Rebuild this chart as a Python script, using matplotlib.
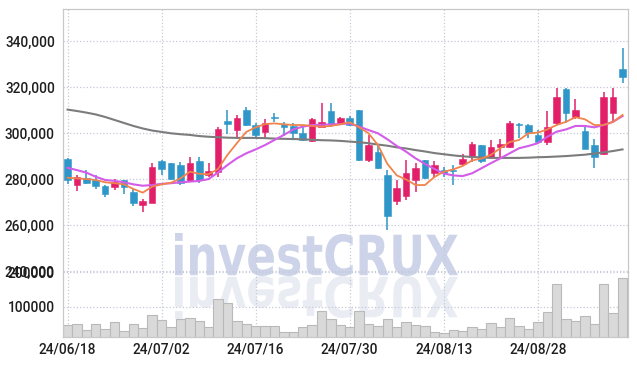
import matplotlib
matplotlib.use('Agg')
import matplotlib.pyplot as plt
from matplotlib.textpath import TextPath
from matplotlib.patches import PathPatch
from matplotlib.font_manager import FontProperties
from matplotlib.transforms import Affine2D

plt.rcParams['font.family'] = ['Roboto', 'DejaVu Sans']
plt.rcParams['font.weight'] = 'medium'

# ── Data ──────────────────────────────────────────────────────────────────────
opens = [288800, 277500, 280400, 279700, 277200, 276700, 279700, 274300, 268700, 269600,
         288000, 287100, 286200, 279400, 288000, 281900, 283000, 305300, 301300, 310100,
         303600, 300700, 307200, 304000, 303200, 300300, 296800, 302900, 309800, 304300,
         306500, 310100, 288400, 292000, 281900, 270700, 272700, 279700, 288400, 282600,
         284000, 283900, 286700, 289800, 294900, 289600, 294200, 293900, 304000, 303600,
         299300, 296300, 304600, 319100, 307200, 301100, 294900, 291000, 309000, 327800]
highs = [289300, 281900, 283900, 281900, 277500, 280000, 279900, 275800, 271400, 287200,
         288200, 287300, 287700, 289700, 289700, 287200, 302700, 310000, 308000, 311300,
         304300, 306100, 309000, 305000, 304300, 302600, 306500, 313300, 313300, 307200,
         307500, 310300, 299300, 294900, 284000, 279700, 288400, 287100, 288600, 288000,
         285500, 286200, 291000, 296300, 295100, 297100, 297400, 305300, 304300, 304000,
         301400, 309800, 319800, 319600, 314800, 302600, 297400, 318100, 319600, 337000]
lows = [277800, 274900, 277800, 275800, 272200, 275300, 273500, 268500, 265900, 269600,
        281900, 279500, 277500, 278700, 278300, 281100, 281100, 299600, 298100, 303200,
        297800, 297400, 305000, 298800, 297100, 296700, 296300, 302600, 302600, 303600,
        303200, 287800, 287500, 284300, 258000, 268800, 271000, 274500, 280100, 281100,
        281100, 277700, 286200, 287700, 287000, 288700, 289800, 293600, 297800, 297800,
        296000, 294900, 303600, 304600, 306100, 293000, 284800, 290600, 305000, 322000]
closes = [279700, 281000, 278500, 277200, 273500, 278700, 276800, 269800, 270600, 285300,
          284500, 280100, 278300, 287100, 279700, 283600, 301900, 303900, 306500, 303600,
          299100, 304300, 306800, 302900, 300000, 297100, 306100, 304900, 303600, 306700,
          303600, 288400, 294900, 285000, 264000, 276100, 282700, 284800, 280600, 286200,
          282900, 283600, 288700, 295300, 288100, 294200, 295300, 304600, 303500, 300000,
          296300, 302600, 315700, 309000, 310100, 293200, 289800, 315700, 315700, 324300]
volume = [46800, 49700, 31400, 49700, 34300, 55500, 28500, 49700, 37200, 75900,
          61300, 40100, 63400, 66300, 58400, 40100, 121500, 109900, 58400, 49700,
          43900, 43900, 43900, 25600, 25600, 40100, 46800, 86600, 63400, 46800,
          40100, 86600, 49700, 43900, 63400, 40100, 55500, 46800, 43900, 25600,
          22700, 31400, 28500, 40100, 34300, 51700, 40100, 66300, 43900, 34300,
          55500, 84600, 165100, 63400, 58400, 72100, 49700, 165100, 80800, 182600]
ma_short = [280700, 280400, 280100, 279700, 278700, 278300, 277800, 275800, 274200, 276800,
            277800, 278500, 280400, 283300, 282400, 282200, 284500, 290600, 295700, 300600,
            302600, 304000, 304300, 303900, 303600, 303600, 303200, 302900, 303200, 303900,
            304800, 302600, 300000, 294900, 286700, 281700, 279900, 277500, 277500, 281000,
            283300, 284300, 285800, 288200, 289000, 290600, 293500, 296200, 297100, 300000,
            300300, 301700, 303600, 305000, 307000, 306100, 303600, 303600, 305000, 308000]
ma_mid = [285000, 284000, 282900, 281100, 279700, 279300, 278700, 277800, 277200, 277500,
          278000, 278300, 278700, 279000, 279300, 280100, 283000, 286200, 289100, 291300,
          293000, 294900, 297100, 299300, 301700, 302900, 303600, 303700, 303900, 304000,
          304300, 302900, 301400, 300000, 297400, 294500, 292000, 289100, 286700, 284500,
          282500, 281700, 281400, 282600, 284800, 287000, 289100, 291300, 293500, 294500,
          295700, 298500, 300700, 301700, 303200, 303200, 302600, 303600, 305000, 307500]
ma_long = [310300, 309700, 309000, 308200, 307100, 305800, 304500, 303200, 302100, 301200,
           300600, 300000, 299600, 299300, 298800, 298500, 298300, 298100, 298000, 298000,
           298000, 297900, 297700, 297600, 297500, 297400, 297200, 297000, 296900, 296700,
           296400, 296100, 295700, 295100, 294600, 293900, 293400, 292700, 292100, 291400,
           290900, 290400, 290000, 289700, 289500, 289300, 289300, 289300, 289300, 289400,
           289600, 289700, 289900, 290100, 290400, 290700, 291200, 291700, 292300, 293000]

tick_idx = [0, 10, 20, 30, 40, 50]
tick_labels = ['24/06/18', '24/07/02', '24/07/16', '24/07/30', '24/08/13', '24/08/28']
price_ticks = [240000, 260000, 280000, 300000, 320000, 340000]
vol_ticks = [100000, 200000]

UP = '#e21f69'
DOWN = '#2e96c8'
GRID = '#c6c9d8'
SPINE = '#c8c8c8'
TXT = '#1e1e1e'

W, H = 637, 366
fig = plt.figure(figsize=(W / 100, H / 100), dpi=100, facecolor='white')
ax = fig.add_axes([63.3 / W, (H - 272.3) / H, 564.4 / W, 263.3 / H])
axv = fig.add_axes([63.3 / W, (H - 337.3) / H, 564.4 / W, 65 / H], sharex=ax)
for a in (ax, axv):
    a.set_facecolor('none')
    for s in a.spines.values():
        s.set_color(SPINE)
        s.set_linewidth(0.9)
ax.spines['bottom'].set_visible(False)
axv.spines['top'].set_visible(False)

# ── Watermark ─────────────────────────────────────────────────────────────────
tp = TextPath((0, 0), 'investCRUX', size=100,
              prop=FontProperties(family='DejaVu Sans', weight='bold'))
bb = tp.get_extents()
x0, x1, top, base = 175, 458, 233, 276
sx = (x1 - x0) / bb.width
sy = (base - top) / bb.height
t_main = Affine2D().translate(-bb.x0, -bb.y0).scale(sx, sy).translate(x0, H - base)
t_refl = Affine2D().translate(-bb.x0, -bb.y0).scale(sx, -sy).translate(x0, H - base)
fig.add_artist(PathPatch(tp, facecolor='#eaecf4', edgecolor='none', transform=t_refl, zorder=-2))
fig.add_artist(PathPatch(tp, facecolor='#cdd4e9', edgecolor='none', transform=t_main, zorder=-1))

# ── Candles ───────────────────────────────────────────────────────────────────
n = len(opens)
xs = list(range(n))
for i in xs:
    o, h, l, c = opens[i], highs[i], lows[i], closes[i]
    col = UP if c > o else DOWN
    ax.vlines(i, l, h, color=col, linewidth=1.1, zorder=2)
    ax.bar(i, max(abs(c - o), 400), bottom=min(o, c), width=0.7,
           color=col, edgecolor=col, linewidth=0.4, zorder=3)

ax.plot(xs, ma_long, color='#7c7c7c', linewidth=1.5, zorder=4)
ax.plot(xs, ma_mid, color='#d35ce8', linewidth=1.5, zorder=4)
ax.plot(xs, ma_short, color='#f0844c', linewidth=1.3, zorder=5)

ax.set_ylim(239560, 354050)
ax.set_yticks(price_ticks)
ax.set_yticklabels([f'{v:,}' for v in price_ticks])

# ── Volume ────────────────────────────────────────────────────────────────────
axv.bar(xs, volume, width=1.0, color='#d9d9d9', edgecolor='#b9b9b9', linewidth=0.8, zorder=2)
axv.set_ylim(11000, 200000)
axv.set_yticks(vol_ticks)
axv.set_yticklabels([str(v) for v in vol_ticks])

axv.set_xlim(-0.45, 59.55)
axv.set_xticks(tick_idx)
axv.set_xticklabels(tick_labels)

for a in (ax, axv):
    a.grid(True, color=GRID, linestyle=':', linewidth=0.9, zorder=0)
    a.set_axisbelow(True)
    a.tick_params(length=0, labelsize=9.8, colors=TXT, pad=6)
ax.tick_params(axis='x', labelbottom=False)
axv.tick_params(axis='x', pad=4)

fig.savefig('out.png', dpi=100, facecolor='white')
